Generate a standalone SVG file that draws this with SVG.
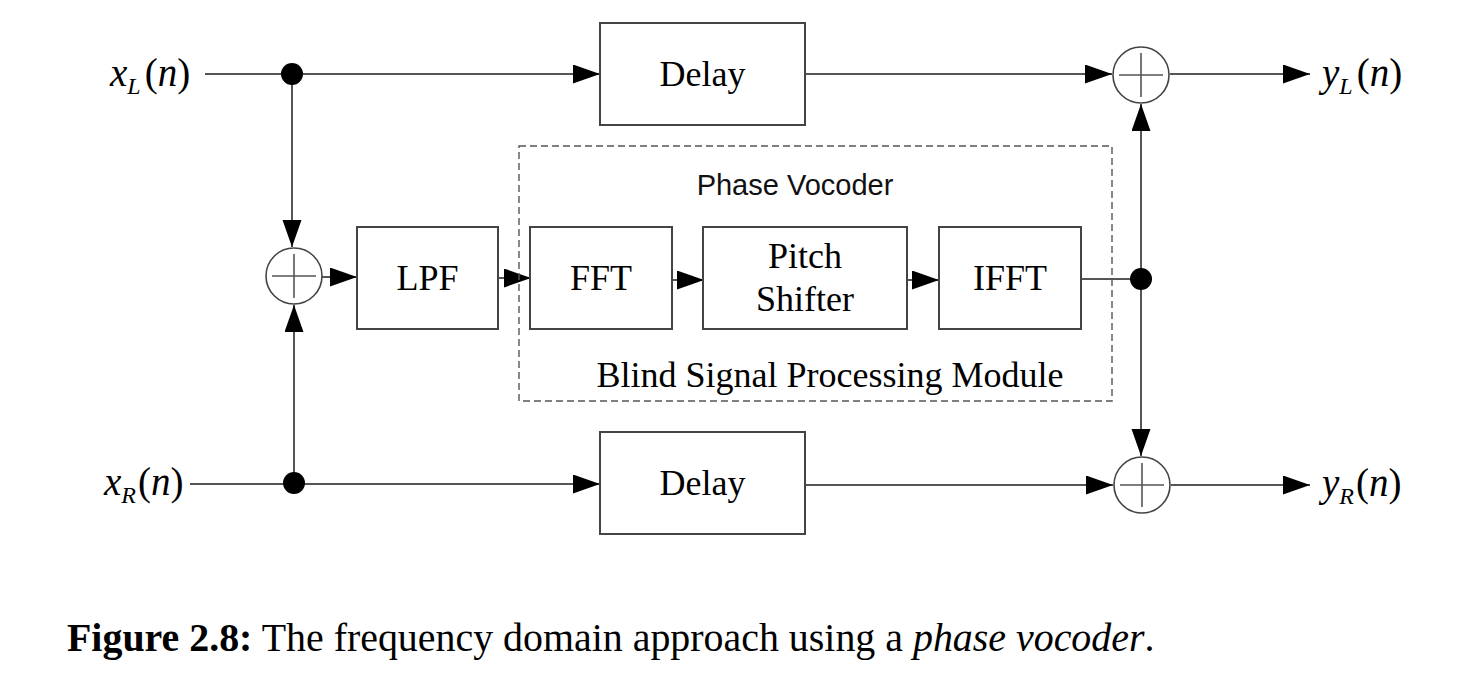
<svg xmlns="http://www.w3.org/2000/svg" width="1470" height="692" viewBox="0 0 1470 692">
<style>
.box{fill:#fff;stroke:#444;stroke-width:2}
.ln{stroke:#555;stroke-width:2;fill:none}
.sum{fill:#fff;stroke:#444;stroke-width:1.6}
.plus{stroke:#555;stroke-width:1.6}
.lbl{font-family:"Liberation Serif",serif;font-size:36px;fill:#000}
.sig{font-family:"Liberation Serif",serif;font-size:39px;font-style:italic;fill:#000}
.sans{font-family:"Liberation Sans",Arial,sans-serif;font-size:29px;fill:#111}
.cap{font-family:"Liberation Serif",serif;font-size:39.9px;fill:#000}
.dash{fill:none;stroke:#555;stroke-width:1.4;stroke-dasharray:7 4}
</style>
<defs>
<marker id="ah" markerUnits="userSpaceOnUse" markerWidth="30" markerHeight="20" refX="27" refY="9.5" orient="auto">
<path d="M0,0 L27,9.5 L0,19 z" fill="#000"/>
</marker>
</defs>
<rect width="1470" height="692" fill="#fff"/>

<g id="connectors">
<line class="ln" x1="205" y1="74" x2="600" y2="74" marker-end="url(#ah)"/>
<line class="ln" x1="292" y1="74" x2="292" y2="247" marker-end="url(#ah)"/>
<line class="ln" x1="190" y1="484" x2="600" y2="484" marker-end="url(#ah)"/>
<line class="ln" x1="294" y1="484" x2="294" y2="305" marker-end="url(#ah)"/>
<line class="ln" x1="322" y1="277" x2="357" y2="277" marker-end="url(#ah)"/>
<line class="ln" x1="498" y1="278" x2="531" y2="278" marker-end="url(#ah)"/>
<line class="ln" x1="672" y1="280" x2="704" y2="280" marker-end="url(#ah)"/>
<line class="ln" x1="906" y1="280" x2="939" y2="280" marker-end="url(#ah)"/>
<line class="ln" x1="1081" y1="279" x2="1141" y2="279"/>
<line class="ln" x1="1141" y1="279" x2="1141" y2="104" marker-end="url(#ah)"/>
<line class="ln" x1="1141" y1="279" x2="1141" y2="456" marker-end="url(#ah)"/>
<line class="ln" x1="805" y1="74" x2="1112" y2="74" marker-end="url(#ah)"/>
<line class="ln" x1="805" y1="485" x2="1113" y2="485" marker-end="url(#ah)"/>
<line class="ln" x1="1170" y1="74" x2="1310" y2="74" marker-end="url(#ah)"/>
<line class="ln" x1="1171" y1="485" x2="1310" y2="485" marker-end="url(#ah)"/>
</g>

<g id="dot-xl"><circle cx="292" cy="74" r="11" fill="#000"/></g>
<g id="dot-xr"><circle cx="294" cy="483" r="11" fill="#000"/></g>
<g id="dot-out"><circle cx="1141" cy="279" r="11" fill="#000"/></g>

<g id="input-xl"><text class="sig" x="110" y="86">x<tspan font-size="24" dy="8">L</tspan><tspan dx="4" dy="-8" font-style="normal">(</tspan>n<tspan font-style="normal">)</tspan></text></g>
<g id="input-xr"><text class="sig" x="104" y="495">x<tspan font-size="24" dy="8">R</tspan><tspan dx="2" dy="-8" font-style="normal">(</tspan>n<tspan font-style="normal">)</tspan></text></g>
<g id="output-yl"><text class="sig" x="1322" y="86">y<tspan font-size="24" dy="8">L</tspan><tspan dx="4" dy="-8" font-style="normal">(</tspan>n<tspan font-style="normal">)</tspan></text></g>
<g id="output-yr"><text class="sig" x="1322" y="496">y<tspan font-size="24" dy="8">R</tspan><tspan dx="2" dy="-8" font-style="normal">(</tspan>n<tspan font-style="normal">)</tspan></text></g>

<g id="delay-top"><rect class="box" x="600" y="23" width="205" height="102"/><text class="lbl" x="702.5" y="86" text-anchor="middle">Delay</text></g>
<g id="delay-bottom"><rect class="box" x="600" y="432" width="205" height="102"/><text class="lbl" x="702.5" y="495" text-anchor="middle">Delay</text></g>

<g id="sum-in"><circle class="sum" cx="294" cy="276" r="28"/><line class="plus" x1="272" y1="276" x2="316" y2="276"/><line class="plus" x1="294" y1="254" x2="294" y2="298"/></g>
<g id="sum-l"><circle class="sum" cx="1141" cy="75" r="28"/><line class="plus" x1="1119" y1="75" x2="1163" y2="75"/><line class="plus" x1="1141" y1="53" x2="1141" y2="97"/></g>
<g id="sum-r"><circle class="sum" cx="1142" cy="485" r="28"/><line class="plus" x1="1120" y1="485" x2="1164" y2="485"/><line class="plus" x1="1142" y1="463" x2="1142" y2="507"/></g>

<g id="lpf"><rect class="box" x="357" y="227" width="141" height="102"/><text class="lbl" x="427.5" y="290" text-anchor="middle">LPF</text></g>

<g id="module">
<rect class="dash" x="519" y="146" width="593" height="255"/>
<text class="sans" x="795" y="195" text-anchor="middle">Phase Vocoder</text>
<text class="lbl" x="830" y="387" text-anchor="middle">Blind Signal Processing Module</text>
</g>

<g id="fft"><rect class="box" x="530" y="227" width="142" height="102"/><text class="lbl" x="601" y="290" text-anchor="middle">FFT</text></g>
<g id="pitch"><rect class="box" x="703" y="227" width="204" height="102"/><text class="lbl" x="805" y="268" text-anchor="middle">Pitch</text><text class="lbl" x="805" y="311" text-anchor="middle">Shifter</text></g>
<g id="ifft"><rect class="box" x="939" y="227" width="142" height="102"/><text class="lbl" x="1010" y="290" text-anchor="middle">IFFT</text></g>

<g id="caption"><text class="cap" x="67" y="651"><tspan font-weight="bold">Figure 2.8:</tspan> The frequency domain approach using a <tspan font-style="italic">phase vocoder</tspan>.</text></g>
</svg>
